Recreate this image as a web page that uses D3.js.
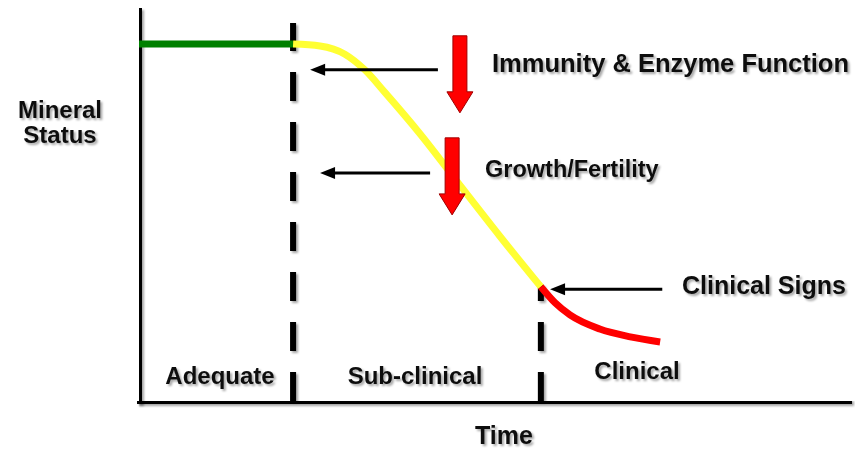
<!DOCTYPE html>
<html>
<head>
<meta charset="utf-8">
<script src="https://d3js.org/d3.v7.min.js"></script>
<style>
    body { margin: 0; background: #fff; }
    svg { display: block; font-family: Arial, 'Liberation Sans', sans-serif; font-weight: bold; }
</style>
</head>
<body>
<svg id="chart" width="855" height="449"></svg>
<script>
// phases of mineral status over time (time 0-100, status 0-100)
var phaseNames = ["Adequate", "Sub-clinical", "Clinical"];
var phaseBounds = [21.7, 56.6];

var adequate = [[0, 91.3], [21.7, 91.3]];
var subClinical = [[21.7, 91.3], [25.5, 90.8], [29.0, 88.7], [31.8, 84.7], [34.6, 79.0],
                   [39.6, 68.3], [45.2, 55.2], [50.8, 42.2], [56.6, 29.2]];
var clinical = [[56.6, 29.2], [58.6, 25.1], [60.7, 22.0], [64.9, 18.4], [69.2, 16.4], [73.4, 15.1]];

// effects: black pointer arrows [x from, x to, y] and red "decline" arrows [x, y top, y tip]
var effectNames = ["Immunity & Enzyme Function", "Growth/Fertility", "Clinical Signs"];
var pointers = [[42.1, 24.1, 84.7], [41.0, 25.5, 58.3], [73.7, 57.9, 28.6]];
var declines = [[45.2, 93.4, 73.7], [44.1, 67.3, 47.6]];

var svg = d3.select("#chart");
var x = d3.scaleLinear().domain([0, 100]).range([139, 849]);
var y = d3.scaleLinear().domain([0, 100]).range([401, 10]);

// drop shadow, in user space so it works on straight lines too
var f = svg.append("defs").append("filter").attr("id", "shadow")
    .attr("filterUnits", "userSpaceOnUse")
    .attr("x", 0).attr("y", 0).attr("width", 855).attr("height", 449);
f.append("feDropShadow").attr("dx", 2).attr("dy", 2).attr("stdDeviation", 1)
    .attr("flood-color", "#000").attr("flood-opacity", 0.35);

// axes (no ticks)
svg.append("g").attr("transform", "translate(0," + y(0) + ")")
    .call(d3.axisBottom(x).tickValues([]).tickSizeOuter(0));
svg.append("g").attr("transform", "translate(" + x(0) + ",0)")
    .call(d3.axisLeft(y).tickValues([]).tickSizeOuter(0));
svg.selectAll(".domain").attr("stroke", "#000").attr("stroke-width", 5)
    .attr("stroke-linecap", "square").attr("filter", "url(#shadow)");

// dashed phase boundaries
var dashTops = [96.7, 29.7];
svg.selectAll("line.bound").data(phaseBounds).enter().append("line")
    .attr("class", "bound")
    .attr("x1", function (d) { return x(d); }).attr("x2", function (d) { return x(d); })
    .attr("y1", y(0)).attr("y2", function (d, i) { return y(dashTops[i]); })
    .attr("stroke", "#000").attr("stroke-width", 6)
    .attr("stroke-dasharray", "29,21").attr("filter", "url(#shadow)");

// status curve
var line = d3.line().x(function (d) { return x(d[0]); }).y(function (d) { return y(d[1]); })
    .curve(d3.curveMonotoneX);
[[adequate, "#008000"], [subClinical, "#ffff33"], [clinical, "#ff0000"]].forEach(function (s) {
    svg.append("path").datum(s[0]).attr("d", line)
        .attr("fill", "none").attr("stroke", s[1]).attr("stroke-width", 7);
});

// black pointer arrows
pointers.forEach(function (p) {
    var x1 = x(p[0]), x2 = x(p[1]), yy = y(p[2]);
    svg.append("line").attr("x1", x1).attr("x2", x2 + 12).attr("y1", yy).attr("y2", yy)
        .attr("stroke", "#000").attr("stroke-width", 3);
    svg.append("path").attr("fill", "#000")
        .attr("d", "M" + x2 + "," + yy + "L" + (x2 + 15) + "," + (yy - 6) + "L" + (x2 + 15) + "," + (yy + 6) + "Z");
});

// red decline arrows
declines.forEach(function (d) {
    var cx = x(d[0]), top = y(d[1]), tip = y(d[2]);
    var sw = 7, hw = 13, hl = 21;
    var pts = [[cx - sw, top], [cx + sw, top], [cx + sw, tip - hl], [cx + hw, tip - hl], [cx, tip],
               [cx - hw, tip - hl], [cx - sw, tip - hl]];
    svg.append("path").attr("d", "M" + pts.join("L") + "Z")
        .attr("fill", "#ff0000").attr("stroke", "#a00000").attr("stroke-width", 1);
});

// labels
var labels = [
    [effectNames[0], 492, 72, "start", 25.5],
    [effectNames[1], 485, 177, "start", 23.5],
    [effectNames[2], 682, 294, "start", 25],
    [phaseNames[0], 220, 384, "middle", 24],
    [phaseNames[1], 415, 384, "middle", 24],
    [phaseNames[2], 637, 379, "middle", 24],
    ["Time", 504, 444, "middle", 25],
    ["Mineral", 60, 118, "middle", 24],
    ["Status", 60, 143, "middle", 24]
];
svg.selectAll("text.lbl").data(labels).enter().append("text")
    .attr("class", "lbl")
    .attr("x", function (d) { return d[1]; }).attr("y", function (d) { return d[2]; })
    .attr("text-anchor", function (d) { return d[3]; })
    .attr("font-size", function (d) { return d[4] + "px"; })
    .attr("fill", "#111").attr("filter", "url(#shadow)")
    .text(function (d) { return d[0]; });
</script>
</body>
</html>
